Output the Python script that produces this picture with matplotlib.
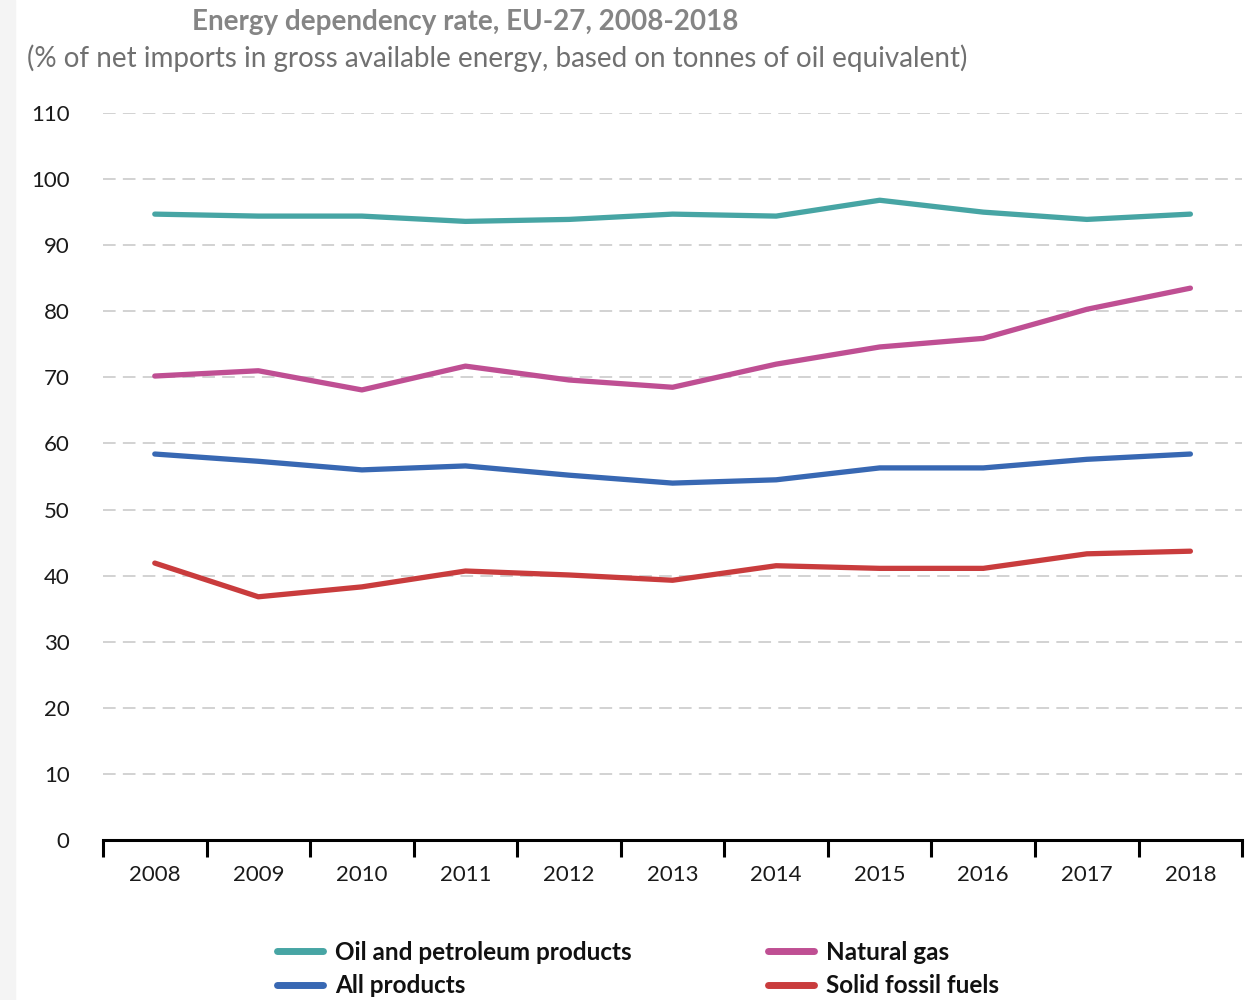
import matplotlib
matplotlib.use('Agg')
import matplotlib.pyplot as plt
import numpy as np

years = ['2008', '2009', '2010', '2011', '2012', '2013', '2014', '2015', '2016', '2017', '2018']
oil = [94.7, 94.4, 94.4, 93.6, 93.9, 94.7, 94.4, 96.8, 95.0, 93.9, 94.7]
gas = [70.2, 71.0, 68.1, 71.7, 69.6, 68.5, 72.0, 74.6, 75.9, 80.3, 83.5]
allp = [58.4, 57.3, 56.0, 56.6, 55.2, 54.0, 54.5, 56.3, 56.3, 57.6, 58.4]
solid = [41.9, 36.8, 38.3, 40.7, 40.1, 39.3, 41.5, 41.1, 41.1, 43.3, 43.7]

plt.rcParams['font.family'] = ['Lato', 'DejaVu Sans']

fig = plt.figure(figsize=(12.56, 10), dpi=100)
fig.patch.set_facecolor('white')
# light grey strip on the left edge
fig.patches.append(plt.Rectangle((0, 0), 0.012, 1, transform=fig.transFigure,
                                 color='#f4f4f4', zorder=0))

ax = fig.add_axes([0.082, 0.16, 0.907, 0.727])
x = np.arange(len(years))

l1, = ax.plot(x, oil, color='#47a5a4', lw=3.8, solid_capstyle='round', label='Oil and petroleum products')
l2, = ax.plot(x, gas, color='#bf4f93', lw=3.8, solid_capstyle='round', label='Natural gas')
l3, = ax.plot(x, allp, color='#3868b3', lw=3.8, solid_capstyle='round', label='All products')
l4, = ax.plot(x, solid, color='#c93c3d', lw=3.8, solid_capstyle='round', label='Solid fossil fuels')

ax.set_xlim(-0.5, len(years) - 0.5)
ax.set_ylim(0, 110)
ax.set_yticks(range(0, 111, 10))
for v in range(10, 111, 10):
    ax.axhline(v, color='#cfcfcf', lw=1.3, dashes=(7, 4), zorder=0)

for s in ['top', 'right', 'left']:
    ax.spines[s].set_visible(False)
ax.spines['bottom'].set_linewidth(2.2)
ax.spines['bottom'].set_color('black')

ax.set_xticks(np.arange(-0.5, len(years), 1.0))
ax.set_xticklabels([])
ax.set_xticks(x, minor=True)
ax.set_xticklabels(years, minor=True)
ax.tick_params(axis='x', which='major', length=12, width=2.2, color='black', direction='out')
ax.tick_params(axis='x', which='minor', length=0, pad=18, labelsize=16, labelcolor='#1a1a1a')
ax.tick_params(axis='y', length=0, pad=24, labelsize=16, labelcolor='#1a1a1a')

fig.text(0.37, 0.978, 'Energy dependency rate, EU-27, 2008-2018', ha='center', va='center',
         fontsize=20, fontweight='bold', color='#858585')
fig.text(0.396, 0.942, '(% of net imports in gross available energy, based on tonnes of oil equivalent)',
         ha='center', va='center', fontsize=20, color='#707070')

# column-major fill so that rows read: oil | gas, all | solid
leg = fig.legend(handles=[l1, l3, l2, l4], loc='center', bbox_to_anchor=(0.508, 0.031),
                 ncol=2, frameon=False, handlelength=1.9, columnspacing=5.6,
                 labelspacing=0.45, handletextpad=0.5,
                 prop={'weight': 'bold', 'size': 17.5})
for t in leg.get_texts():
    t.set_color('#111111')
for h in leg.get_lines():
    h.set_linewidth(5)

fig.savefig('out.png', dpi=100)
